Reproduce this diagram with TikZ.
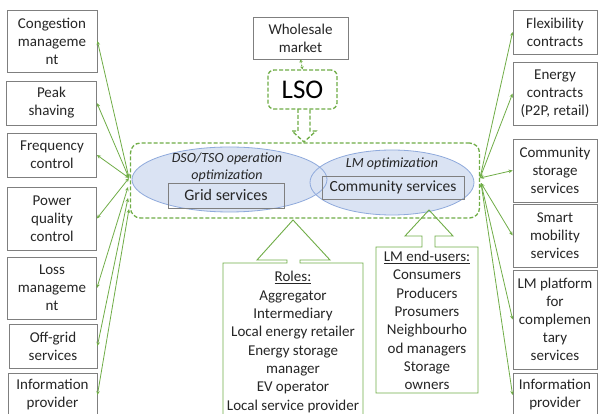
\documentclass[tikz,border=0pt]{standalone}
\usepackage{fontspec}
\setmainfont{Carlito}
\usetikzlibrary{arrows.meta}
\definecolor{grn}{HTML}{70AD47}
\definecolor{bgray}{HTML}{7F7F7F}
\definecolor{efill}{HTML}{DAE3F3}
\definecolor{eline}{HTML}{8FAADC}
\definecolor{txt}{HTML}{262626}
\begin{document}
\begin{tikzpicture}[x=1pt,y=-1pt,
  box/.style={draw=bgray,line width=0.8pt,fill=white,align=center,inner sep=0pt,text=txt,font=\fontsize{15}{18}\selectfont},
  gdash/.style={draw=grn,line width=1.3pt,dash pattern=on 4pt off 2pt},
  conn/.style={draw=grn,line width=0.8pt,{Stealth[length=4pt,width=3.5pt]}-{Stealth[length=4pt,width=3.5pt]}},
  ell/.style={draw=eline,fill=efill,line width=0.8pt},
  lst/.style={align=center,text=txt,font=\fontsize{15}{18.3}\selectfont,inner sep=0pt}]
\clip (0,0) rectangle (598,414);
\fill[white] (0,0) rectangle (598,414);

% left boxes
\node[box,minimum width=90pt,minimum height=62pt] (cong) at (52,41) {Congestion\\manageme\\nt};
\node[box,minimum width=90pt,minimum height=44pt] (peak) at (51.5,103) {Peak\\shaving};
\node[box,minimum width=89pt,minimum height=44pt] (freq) at (52,155) {Frequency\\control};
\node[box,minimum width=89pt,minimum height=63pt] (pq) at (52,218.5) {Power\\quality\\control};
\node[box,minimum width=89pt,minimum height=62pt] (loss) at (52,288) {Loss\\manageme\\nt};
\node[box,minimum width=88pt,minimum height=44pt] (offg) at (53,346) {Off-grid\\services};
\node[box,minimum width=89pt,minimum height=44pt] (infl) at (52.5,395) {Information\\provider};

% right boxes
\node[box,minimum width=84pt,minimum height=44pt] (flex) at (555,32) {Flexibility\\contracts};
\node[box,minimum width=84pt,minimum height=63pt] (enc) at (555,93.5) {Energy\\contracts\\(P2P, retail)};
\node[box,minimum width=84pt,minimum height=63pt] (cst) at (555,170.5) {Community\\storage\\services};
\node[box,minimum width=84pt,minimum height=63pt] (smm) at (555,235.5) {Smart\\mobility\\services};
\node[box,minimum width=84pt,minimum height=99pt] (lmp) at (555,319.5) {LM platform\\for\\complemen\\tary\\services};
\node[box,minimum width=84pt,minimum height=44pt] (infr) at (555,395) {Information\\provider};

% top
\node[box,minimum width=95pt,minimum height=42pt] (whole) at (300.5,38) {Wholesale\\market};
\node[gdash,rounded corners=6pt,minimum width=69pt,minimum height=39pt,inner sep=0pt,text=black,font=\fontsize{27}{30}\selectfont] (lso) at (302.5,89.5) {LSO};
\draw[gdash,line width=1pt,dash pattern=on 2pt off 1.5pt,{Stealth[length=3pt,width=3.5pt]}-{Stealth[length=3pt,width=3.5pt]}] (whole.south) -- (lso.north);

% big dashed container
\node[gdash,rounded corners=10pt,minimum width=349pt,minimum height=75pt,inner sep=0pt] (cont) at (305,180.5) {};
\draw[gdash] (298,109) -- (298,131) -- (292,131) -- (304,142) -- (316,131) -- (310,131) -- (310,109);

% ellipses
\fill[efill] (229.5,179.5) ellipse [x radius=97.5, y radius=32.5];
\fill[efill] (392,182.5) ellipse [x radius=82, y radius=32.5];
\draw[eline,line width=0.8pt] (229.5,179.5) ellipse [x radius=97.5, y radius=32.5];
\draw[eline,line width=0.8pt] (392,182.5) ellipse [x radius=82, y radius=32.5];
\node[lst,font=\fontsize{14}{17}\selectfont\itshape] (dso) at (227,167.5) {DSO/TSO operation\\optimization};
\node[box,draw=bgray,fill=none,minimum width=116pt,minimum height=25pt,font=\fontsize{16}{18}\selectfont] (grid) at (226,195.5) {Grid services};
\node[lst,font=\fontsize{14}{17}\selectfont\itshape] (lmo) at (392,164) {LM optimization};
\node[box,draw=bgray,fill=none,minimum width=142pt,minimum height=23pt,font=\fontsize{15.5}{18}\selectfont] (comm) at (393,187.5) {Community services};

% callouts
\draw[grn,line width=0.9pt] (223,440) -- (223,263) -- (287,263) -- (287,260) -- (257,260) -- (293,220) -- (330,260) -- (300,260) -- (300,263) -- (363,263) -- (363,440);
\node[lst] (roles) at (293,342) {\underline{Roles:}\\Aggregator\\Intermediary\\Local energy retailer\\Energy storage\\manager\\EV operator\\Local service provider};
\draw[grn,line width=0.9pt] (376,393) -- (376,247) -- (422,247) -- (422,236) -- (405,236) -- (429,210) -- (453,236) -- (435,236) -- (435,247) -- (478,247) -- (478,393) -- cycle;
\node[lst] (lmu) at (427,320.5) {\underline{LM end-users:}\\Consumers\\Producers\\Prosumers\\Neighbourho\\od managers\\Storage\\owners};

% hubs
\coordinate (hl) at (129,178);
\coordinate (hl2) at (128,187);
\coordinate (hl3) at (128,198);
\coordinate (hl4) at (129,209);
\coordinate (hr) at (480,178);
\coordinate (hr2) at (481,183);

\draw[conn] (hl) -- (cong.east);
\draw[conn] (hl) -- (peak.east);
\draw[conn] (hl) -- (freq.east);
\draw[conn] (hl) -- (pq.east);
\draw[conn] (hl2) -- (loss.east);
\draw[conn] (hl3) -- (offg.east);
\draw[conn] (hl4) -- (infl.east);

\draw[conn] (hr) -- (flex.west);
\draw[conn] (hr) -- (enc.west);
\draw[conn] (hr) -- (cst.west);
\draw[conn] (hr2) -- (smm.west);
\draw[conn] (hr2) -- (lmp.west);
\draw[conn] (hr2) -- (infr.west);
\end{tikzpicture}
\end{document}
